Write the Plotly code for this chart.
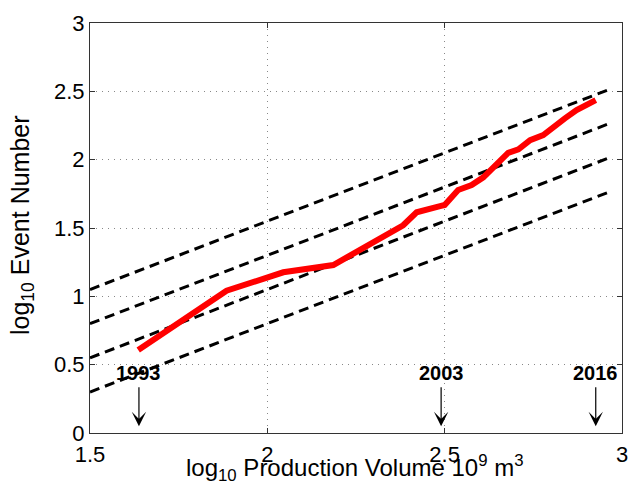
import plotly.graph_objects as go

# Observed cumulative curve (log10 production volume vs log10 event number)
log_volume = [1.636, 1.885, 2.045, 2.186, 2.383, 2.421, 2.487, 2.500, 2.538, 2.576,
              2.609, 2.651, 2.679, 2.708, 2.741, 2.778, 2.811, 2.839, 2.872, 2.926]
log_events = [0.607, 1.041, 1.176, 1.229, 1.520, 1.615, 1.660, 1.668, 1.778, 1.814,
              1.871, 1.977, 2.050, 2.075, 2.143, 2.180, 2.253, 2.302, 2.363, 2.436]

# Reference lines y = x + c
ref_offsets = [-0.45, -0.70, -0.95, -1.20]
ref_x = [1.5, 2.97]

# Year markers
years = ["1993", "2003", "2016"]
year_x = [1.638, 2.49, 2.926]

x_ticks = [1.5, 2, 2.5, 3]
x_ticklabels = ["1.5", "2", "2.5", "3"]
y_ticks = [0, 0.5, 1, 1.5, 2, 2.5, 3]
y_ticklabels = ["0", "0.5", "1", "1.5", "2", "2.5", "3"]

FONT = "Liberation Sans, Arial, Helvetica, sans-serif"

fig = go.Figure()
for c in ref_offsets:
    fig.add_trace(go.Scatter(x=ref_x, y=[v + c for v in ref_x], mode="lines",
                             line=dict(color="black", width=3, dash="10px,6px"),
                             showlegend=False, hoverinfo="skip"))
fig.add_trace(go.Scatter(x=log_volume, y=log_events, mode="lines",
                         line=dict(color="#ff0000", width=6),
                         showlegend=False))

for yr, xv in zip(years, year_x):
    fig.add_annotation(x=xv, y=0.05, ax=xv, ay=0.345, xref="x", yref="y",
                       axref="x", ayref="y", text="", showarrow=True,
                       arrowhead=3, arrowsize=2.0, arrowwidth=1.2, arrowcolor="black")
    fig.add_annotation(x=xv, y=0.44, xref="x", yref="y", text="<b>%s</b>" % yr,
                       showarrow=False, font=dict(family=FONT, size=20, color="black"))

# Axis titles as annotations for exact placement
fig.add_annotation(x=0.498, y=-0.085, xref="paper", yref="paper",
                   text="log<sub>10</sub> Production Volume 10<sup>9</sup> m<sup>3</sup>",
                   showarrow=False, xanchor="center", yanchor="middle",
                   font=dict(family=FONT, size=24, color="black"))
fig.add_annotation(x=-0.128, y=0.507, xref="paper", yref="paper",
                   text="log<sub>10</sub> Event Number", textangle=-90,
                   showarrow=False, xanchor="center", yanchor="middle",
                   font=dict(family=FONT, size=25, color="black"))

axis_common = dict(showline=True, linecolor="#333333", linewidth=1, mirror="allticks",
                   ticks="inside", ticklen=5, tickcolor="#333333",
                   showgrid=True, gridcolor="#888888", griddash="1px,5px", gridwidth=1,
                   zeroline=False, automargin=False,
                   tickfont=dict(family=FONT, size=22, color="black"))

fig.update_xaxes(range=[1.5, 3], tickvals=x_ticks, ticktext=x_ticklabels,
                 ticklabelstandoff=2, **axis_common)
fig.update_yaxes(range=[0, 3], tickvals=y_ticks, ticktext=y_ticklabels,
                 ticklabelstandoff=0, **axis_common)

fig.update_layout(width=629, height=494, margin=dict(l=90, r=7, t=23, b=61, autoexpand=False),
                  plot_bgcolor="white", paper_bgcolor="white",
                  font=dict(family=FONT, color="black"))

fig.write_html("out.html", config={"displayModeBar": False},
               post_script="document.body.style.margin='0';")
